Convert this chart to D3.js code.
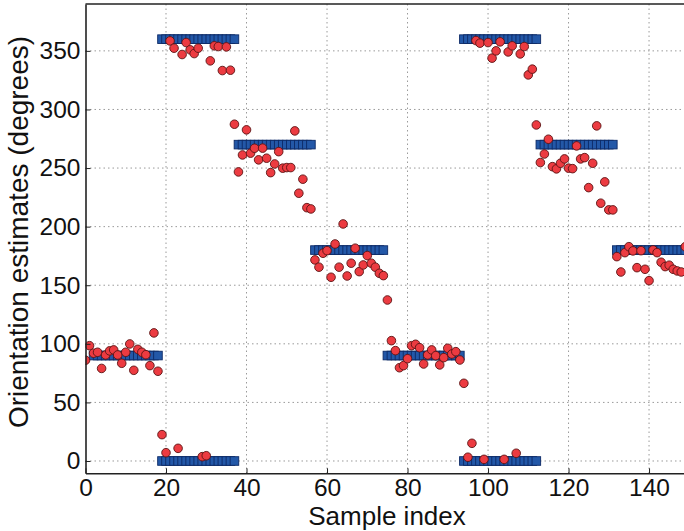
<!DOCTYPE html>
<html>
<head>
<meta charset="utf-8">
<script src="https://cdn.jsdelivr.net/npm/d3@7"></script>
<style>
  html, body { margin: 0; padding: 0; background: #fff; }
  svg { display: block; font-family: "Liberation Sans", Arial, Helvetica, sans-serif; }
</style>
</head>
<body>
<script>
// Ground-truth orientation per block of samples (first index, last index, angle(s))
const segStart = [2, 19, 38, 57, 75, 94, 113, 132];
const segEnd   = [18, 37, 56, 74, 93, 112, 131, 149];
const segAngles = [[90], [0, 360], [270], [180], [90], [0, 360], [270], [180]];

// Estimated orientation for samples 0..149 (degrees)
const estimates = [
  86, 98.4, 92, 92.8, 79, 90.5, 94, 94.8, 90.5, 83.4,
  92.8, 99.9, 77.4, 95.3, 92.8, 90.7, 81.4, 109.3, 76.6, 22.5,
  7.1, 358.5, 352.3, 10.8, 346.9, 357.1, 350.9, 347.7, 352.3, 3.7,
  4.5, 341.5, 354.3, 353.7, 333.2, 353.4, 333.5, 287.4, 246.7, 261.2,
  282.6, 262.7, 266.9, 257, 267, 258.4, 246.1, 253.5, 264, 249.9,
  250.4, 250.4, 281.7, 228.5, 240.5, 216.2, 215.1, 171.6, 165.4, 177.3,
  179.5, 156.8, 185.2, 165.4, 202.3, 157.9, 168.8, 181.6, 161.6, 167.3,
  175.3, 168.8, 165.4, 160.2, 158.2, 137.4, 102.7, 94.2, 79.6, 81.4,
  87.3, 98.4, 99.6, 96.7, 82.8, 90.5, 94.8, 89.9, 82, 88.2,
  96.2, 91.3, 93.3, 86.2, 66.3, 3.2, 15.1, 358.8, 356.6, 1.4,
  357.1, 343.8, 350, 357.7, 1.4, 349.1, 354.3, 6.6, 347.4, 353.7,
  329.5, 334.4, 286.8, 254.7, 262, 274.6, 251.2, 249.3, 254.1, 257.8,
  249.9, 249.5, 268.9, 257.8, 258.9, 233.3, 254.1, 286, 220, 238.2,
  214.3, 214.3, 174.4, 161.3, 177.8, 182.9, 179.3, 165, 179.5, 163.6,
  153.9, 180.1, 177.8, 169.6, 165.9, 167.1, 163.6, 162.2, 161.3, 182.9
];

const xTicks = [0, 20, 40, 60, 80, 100, 120, 140];
const yTicks = [0, 50, 100, 150, 200, 250, 300, 350];

const W = 684, H = 531;
const boxL = 85.5, boxT = 4, boxB = 473.3, boxR = 689.3;

const svg = d3.select("body").append("svg")
  .attr("width", W).attr("height", H);
svg.append("rect").attr("width", W).attr("height", H).attr("fill", "#fff");

const x = d3.scaleLinear().domain([0, 150]).range([boxL, boxR]);
const y = d3.scaleLinear().domain([-10.5, 390]).range([boxB, boxT]);

svg.append("defs").append("clipPath").attr("id", "plotArea")
  .append("rect").attr("x", boxL).attr("y", boxT)
  .attr("width", boxR - boxL).attr("height", boxB - boxT);

// dotted grid
const grid = svg.append("g").attr("stroke", "#9a9a9a").attr("stroke-width", 1)
  .attr("stroke-dasharray", "1.5,3");
grid.selectAll("line.gx").data(xTicks.filter(d => d > 0)).join("line")
  .attr("class", "gx")
  .attr("x1", d => x(d)).attr("x2", d => x(d))
  .attr("y1", boxT).attr("y2", boxB);
grid.selectAll("line.gy").data(yTicks).join("line")
  .attr("class", "gy")
  .attr("y1", d => y(d)).attr("y2", d => y(d))
  .attr("x1", boxL).attr("x2", boxR);

const plot = svg.append("g").attr("clip-path", "url(#plotArea)");

// ground-truth markers: a row of squares per block
const sq = 8.6;
const truth = [];
segStart.forEach((s, i) => {
  segAngles[i].forEach(a => {
    d3.range(s, segEnd[i] + 1).forEach(k => truth.push({ k, a }));
  });
});
plot.append("g").selectAll("rect").data(truth).join("rect")
  .attr("x", d => x(d.k) - sq / 2)
  .attr("y", d => y(d.a) - sq / 2)
  .attr("width", sq).attr("height", sq)
  .attr("fill", "#2358a8")
  .attr("stroke", "#0d2a66")
  .attr("stroke-width", 0.9);

// estimates
plot.append("g").selectAll("circle").data(estimates).join("circle")
  .attr("cx", (d, i) => x(i))
  .attr("cy", d => y(d))
  .attr("r", 4.3)
  .attr("fill", "#ec3b41")
  .attr("stroke", "#5a1414")
  .attr("stroke-width", 0.9);

// axes (ticks pointing inward)
const xAxis = svg.append("g").attr("transform", `translate(0,${boxB})`)
  .call(d3.axisBottom(x).tickValues(xTicks).tickSizeInner(-5).tickSizeOuter(0).tickPadding(5));
const yAxis = svg.append("g").attr("transform", `translate(${boxL},0)`)
  .call(d3.axisLeft(y).tickValues(yTicks).tickSizeInner(-5).tickSizeOuter(0).tickPadding(5));

[xAxis, yAxis].forEach(g => {
  g.select(".domain").attr("stroke", "#222").attr("stroke-width", 1.6);
  g.selectAll(".tick line").attr("stroke", "#222").attr("stroke-width", 1);
  g.selectAll(".tick text").attr("fill", "#111")
    .attr("font-size", 24.5)
    .attr("font-family", '"Liberation Sans", Arial, Helvetica, sans-serif');
});

// top border of the axes box
svg.append("line").attr("x1", boxL).attr("x2", boxR)
  .attr("y1", boxT).attr("y2", boxT)
  .attr("stroke", "#222").attr("stroke-width", 1.6);

svg.append("text")
  .attr("x", 387).attr("y", 525)
  .attr("text-anchor", "middle")
  .attr("font-size", 26).attr("fill", "#111")
  .text("Sample index");

svg.append("text")
  .attr("transform", `translate(28,232) rotate(-90)`)
  .attr("text-anchor", "middle")
  .attr("font-size", 28).attr("fill", "#111")
  .text("Orientation estimates (degrees)");
</script>
</body>
</html>
